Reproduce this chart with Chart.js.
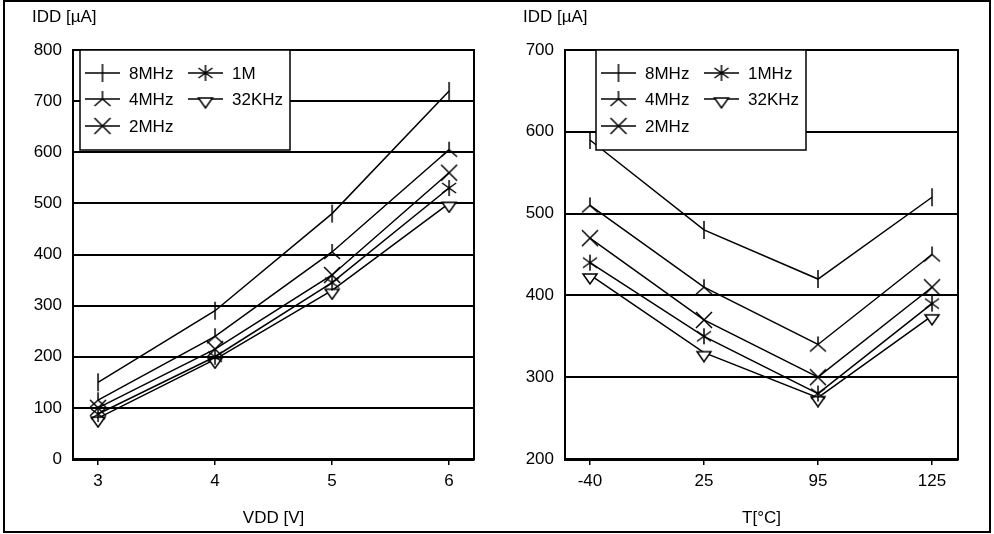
<!DOCTYPE html>
<html>
<head>
<meta charset="utf-8">
<script src="https://cdn.jsdelivr.net/npm/chart.js@4/dist/chart.umd.min.js"></script>
<style>
  body { margin: 0; background: #fff; }
  #marco { position: absolute; left: 3px; top: 0; width: 984px; height: 529px; border: 2px solid #000; }
  canvas { position: absolute; top: 2px; }
  #graficoVdd { left: 6px; }
  #graficoTemp { left: 494px; }
</style>
</head>
<body>
<div id="marco"></div>
<canvas id="graficoVdd" width="488" height="529"></canvas>
<canvas id="graficoTemp" width="495" height="529"></canvas>
<script>
// Datos: corriente vs VDD
const vdd = [3, 4, 5, 6];
const vdd8M = [150, 290, 480, 720];
const vdd4M = [115, 240, 405, 605];
const vdd2M = [100, 215, 360, 560];
const vdd1M = [88, 200, 345, 530];
const vdd32K = [80, 195, 330, 500];

// Datos: corriente vs temperatura
const temps = ['-40', '25', '95', '125'];
const temp8M = [590, 480, 420, 520];
const temp4M = [510, 410, 340, 450];
const temp2M = [470, 370, 300, 410];
const temp1M = [440, 350, 280, 390];
const temp32K = [425, 330, 275, 375];

const nombresVdd = ['8MHz', '4MHz', '2MHz', '1M', '32KHz'];
const nombresTemp = ['8MHz', '4MHz', '2MHz', '1MHz', '32KHz'];

const fuente = { family: 'Liberation Sans, Arial, sans-serif', size: 17 };

// Marcadores dibujados a mano
function marcador(tipo) {
  const c = document.createElement('canvas');
  c.width = 20; c.height = 20;
  const g = c.getContext('2d');
  g.strokeStyle = '#000';
  g.fillStyle = '#fff';
  g.lineWidth = 1.5;
  g.beginPath();
  if (tipo === 'barra') {
    g.moveTo(10, 1); g.lineTo(10, 19);
  } else if (tipo === 'lambda') {
    g.moveTo(10, 2); g.lineTo(10, 10);
    g.moveTo(2, 17); g.lineTo(10, 10); g.lineTo(18, 17);
  } else if (tipo === 'equis') {
    g.moveTo(2, 2); g.lineTo(18, 18);
    g.moveTo(18, 2); g.lineTo(2, 18);
  } else if (tipo === 'asterisco') {
    g.moveTo(10, 2); g.lineTo(10, 18);
    g.moveTo(3, 5); g.lineTo(17, 15);
    g.moveTo(17, 5); g.lineTo(3, 15);
  } else if (tipo === 'triangulo') {
    g.moveTo(3, 9); g.lineTo(17, 9); g.lineTo(10, 19); g.closePath();
    g.fill();
  }
  g.stroke();
  return c;
}
const marcas = ['barra', 'lambda', 'equis', 'asterisco', 'triangulo'].map(marcador);

function series(xs, listas, nombres) {
  return listas.map((vals, i) => ({
    label: nombres[i],
    data: vals.map((v, j) => ({ x: xs[j], y: v })),
    borderColor: '#000',
    borderWidth: 1.5,
    pointStyle: marcas[i],
    pointRadius: 10,
    tension: 0,
    fill: false
  }));
}

// Leyenda en caja + titulo del eje y + marco del area
const adornos = {
  id: 'adornos',
  beforeDatasetsDraw(chart) {
    const a = chart.chartArea;
    const ctx = chart.ctx;
    ctx.save();
    ctx.strokeStyle = '#000';
    ctx.lineWidth = 2;
    ctx.strokeRect(a.left, a.top, a.right - a.left, a.bottom - a.top);
    ctx.restore();
  },
  afterDatasetsDraw(chart, args, opts) {
    const a = chart.chartArea;
    const ctx = chart.ctx;
    ctx.save();
    ctx.font = fuente.size + 'px ' + fuente.family;
    ctx.fillStyle = '#000';
    ctx.textBaseline = 'middle';
    ctx.fillText('IDD [µA]', opts.tituloX, 15);

    const bx = a.left + opts.dx, by = a.top;
    ctx.fillStyle = '#fff';
    ctx.fillRect(bx, by, 210, 100);
    ctx.strokeStyle = '#000';
    ctx.lineWidth = 1.5;
    ctx.strokeRect(bx, by, 210, 100);

    const pos = [[0, 23], [0, 49], [0, 76], [103, 23], [103, 49]];
    chart.data.datasets.forEach((ds, i) => {
      const x = bx + 5 + pos[i][0];
      const y = by + pos[i][1];
      ctx.beginPath();
      ctx.moveTo(x, y); ctx.lineTo(x + 35, y);
      ctx.stroke();
      ctx.drawImage(marcas[i], x + 7.5, y - 10);
      ctx.fillStyle = '#000';
      ctx.fillText(ds.label, x + 44, y + 1);
    });
    ctx.restore();
  }
};

function opciones(cfg) {
  return {
    responsive: false,
    animation: false,
    layout: { padding: { left: 0, right: cfg.derecha, top: 48, bottom: 0 } },
    plugins: {
      legend: { display: false },
      tooltip: { enabled: false },
      adornos: { dx: cfg.dx, tituloX: cfg.tituloX }
    },
    scales: {
      x: {
        type: 'linear',
        min: cfg.xmin,
        max: cfg.xmax,
        afterBuildTicks: s => { s.ticks = cfg.xs.map(v => ({ value: v })); },
        afterFit: s => { s.height = 72; },
        grid: { drawOnChartArea: false, tickLength: 6, color: '#000', lineWidth: 1.5 },
        border: { color: '#000', width: 3 },
        ticks: { color: '#000', font: fuente, padding: 6, maxRotation: 0, callback: cfg.etiqueta },
        title: { display: true, text: cfg.tituloX2, color: '#000', font: fuente, padding: { top: 0, bottom: 2 } }
      },
      y: {
        min: cfg.ymin,
        max: cfg.ymax,
        afterFit: s => { s.width = cfg.anchoY; },
        grid: { color: '#000', lineWidth: 2, drawTicks: false },
        border: { color: '#000', width: 2 },
        ticks: { stepSize: 100, color: '#000', font: fuente, padding: 11 }
      }
    }
  };
}

new Chart(document.getElementById('graficoVdd'), {
  type: 'line',
  data: { datasets: series(vdd, [vdd8M, vdd4M, vdd2M, vdd1M, vdd32K], nombresVdd) },
  options: opciones({
    derecha: 20, dx: 7, tituloX: 26, anchoY: 67,
    xmin: 2.786, xmax: 6.213, xs: vdd, etiqueta: v => v,
    tituloX2: 'VDD [V]', ymin: 0, ymax: 800
  }),
  plugins: [adornos]
});

const idx = temps.map((t, i) => i);
new Chart(document.getElementById('graficoTemp'), {
  type: 'line',
  data: { datasets: series(idx, [temp8M, temp4M, temp2M, temp1M, temp32K], nombresTemp) },
  options: opciones({
    derecha: 31, dx: 31, tituloX: 29, anchoY: 71,
    xmin: -0.219, xmax: 3.228, xs: idx, etiqueta: v => temps[v],
    tituloX2: 'T[°C]', ymin: 200, ymax: 700
  }),
  plugins: [adornos]
});
</script>
</body>
</html>
